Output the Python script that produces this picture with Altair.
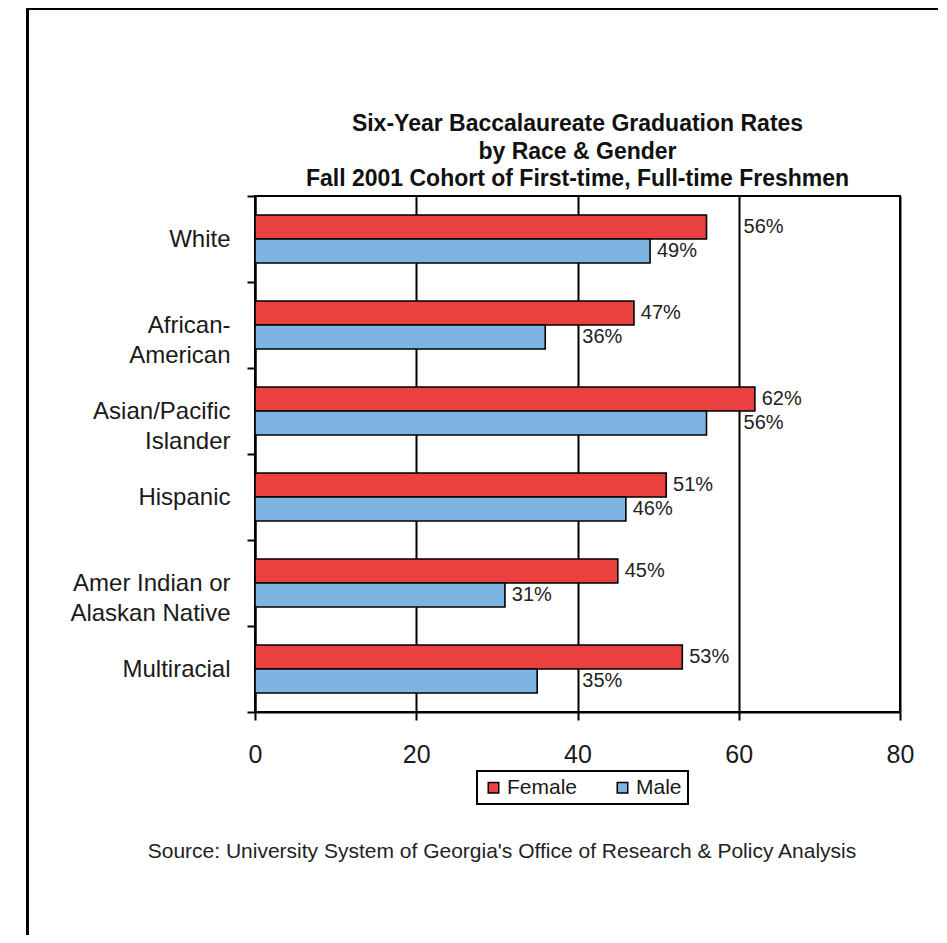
import altair as alt
import pandas as pd

categories = ["White", "African-|American", "Asian/Pacific|Islander", "Hispanic",
              "Amer Indian or|Alaskan Native", "Multiracial"]
genders = ["Female", "Male"]
female = [56, 47, 62, 51, 45, 53]
male = [49, 36, 56, 46, 31, 35]
x_ticks = [0, 20, 40, 60, 80]
colors = ["#E8413F", "#7DB4E2"]
title_lines = ["Six-Year Baccalaureate Graduation Rates",
               "by Race & Gender",
               "Fall 2001 Cohort of First-time, Full-time Freshmen"]
source_text = "Source: University System of Georgia's Office of Research & Policy Analysis"

FONT = "Liberation Sans"


def label_pos(v):
    # place label just after bar end; if it would sit on a gridline, move it past the line
    start, end = v + 0.85, v + 0.85 + 5.0
    for g in x_ticks[1:-1]:
        if start < g < end:
            return g + 0.6
    return start


rows = []
for c, f, m in zip(categories, female, male):
    rows.append({"cat": c, "gender": "Female", "value": f})
    rows.append({"cat": c, "gender": "Male", "value": m})
df = pd.DataFrame(rows)
df["lpos"] = df["value"].apply(label_pos)
df["label"] = df["value"].astype(str) + "%"

y_enc = alt.Y("cat:N", sort=categories,
              scale=alt.Scale(paddingInner=0, paddingOuter=0),
              axis=alt.Axis(title=None, labelExpr="split(datum.label, '|')",
                            labelFontSize=24, labelLineHeight=30, labelFont=FONT,
                            labelColor="#1a1a1a", labelPadding=17,
                            tickBand="extent", tickSize=8, tickColor="black", tickWidth=2,
                            domainColor="black", domainWidth=2, grid=False))
yoff_enc = alt.YOffset("gender:N", sort=genders,
                       scale=alt.Scale(paddingInner=0, paddingOuter=0.79))
x_scale = alt.Scale(domain=[0, 80], nice=False)

bars = alt.Chart(df).mark_bar(stroke="black", strokeWidth=1.6).encode(
    x=alt.X("value:Q", scale=x_scale,
            axis=alt.Axis(title=None, values=x_ticks, labelFontSize=25, labelFont=FONT,
                          labelColor="#1a1a1a", labelPadding=22, labelFlush=False,
                          tickSize=8, tickColor="black", tickWidth=2, domainColor="black",
                          domainWidth=2, grid=True, gridColor="black", gridWidth=2,
                          gridOpacity=1)),
    y=y_enc,
    yOffset=yoff_enc,
    color=alt.Color("gender:N", sort=genders,
                    scale=alt.Scale(domain=genders, range=colors),
                    legend=alt.Legend(title=None, orient="none", legendX=222, legendY=575,
                                      direction="horizontal", columns=2,
                                      symbolType="square", symbolSize=110,
                                      symbolStrokeColor="black", symbolStrokeWidth=1.5,
                                      labelFontSize=21, labelFont=FONT, labelColor="#1a1a1a",
                                      labelOffset=3, columnPadding=34, padding=6,
                                      strokeColor="black", fillColor="white")),
)

labels = alt.Chart(df).mark_text(align="left", baseline="middle", fontSize=20,
                                 font=FONT, color="#222").encode(
    x=alt.X("lpos:Q", scale=x_scale),
    y=y_enc,
    yOffset=yoff_enc,
    text="label:N",
)

one = pd.DataFrame({"k": [0]})
frame_left = alt.Chart(one).mark_rule(color="black", strokeWidth=3).encode(
    x=alt.value(-227.5), y=alt.value(-195), y2=alt.value(760))
frame_top = alt.Chart(one).mark_rule(color="black", strokeWidth=3).encode(
    x=alt.value(-229), x2=alt.value(700), y=alt.value(-187.5))
title = alt.Chart(one).mark_text(fontSize=23, fontWeight="bold", font=FONT, color="#111",
                                 align="center", baseline="alphabetic",
                                 lineHeight=27.5).encode(
    x=alt.value(322.5), y=alt.value(-65), text=alt.value(title_lines))
source = alt.Chart(one).mark_text(fontSize=21, font=FONT, color="#222",
                                  align="center", baseline="middle").encode(
    x=alt.value(247), y=alt.value(656), text=alt.value(source_text))

chart = alt.layer(bars, labels, frame_left, frame_top, title, source).properties(
    width=645, height=516,
    autosize=alt.AutoSizeParams(type="none"),
    padding={"left": 247, "top": 188, "right": 38, "bottom": 223},
).configure_view(stroke="black", strokeWidth=2).configure_legend(strokeWidth=2)

chart.save("out.html", embed_options={"renderer": "svg", "actions": False})
